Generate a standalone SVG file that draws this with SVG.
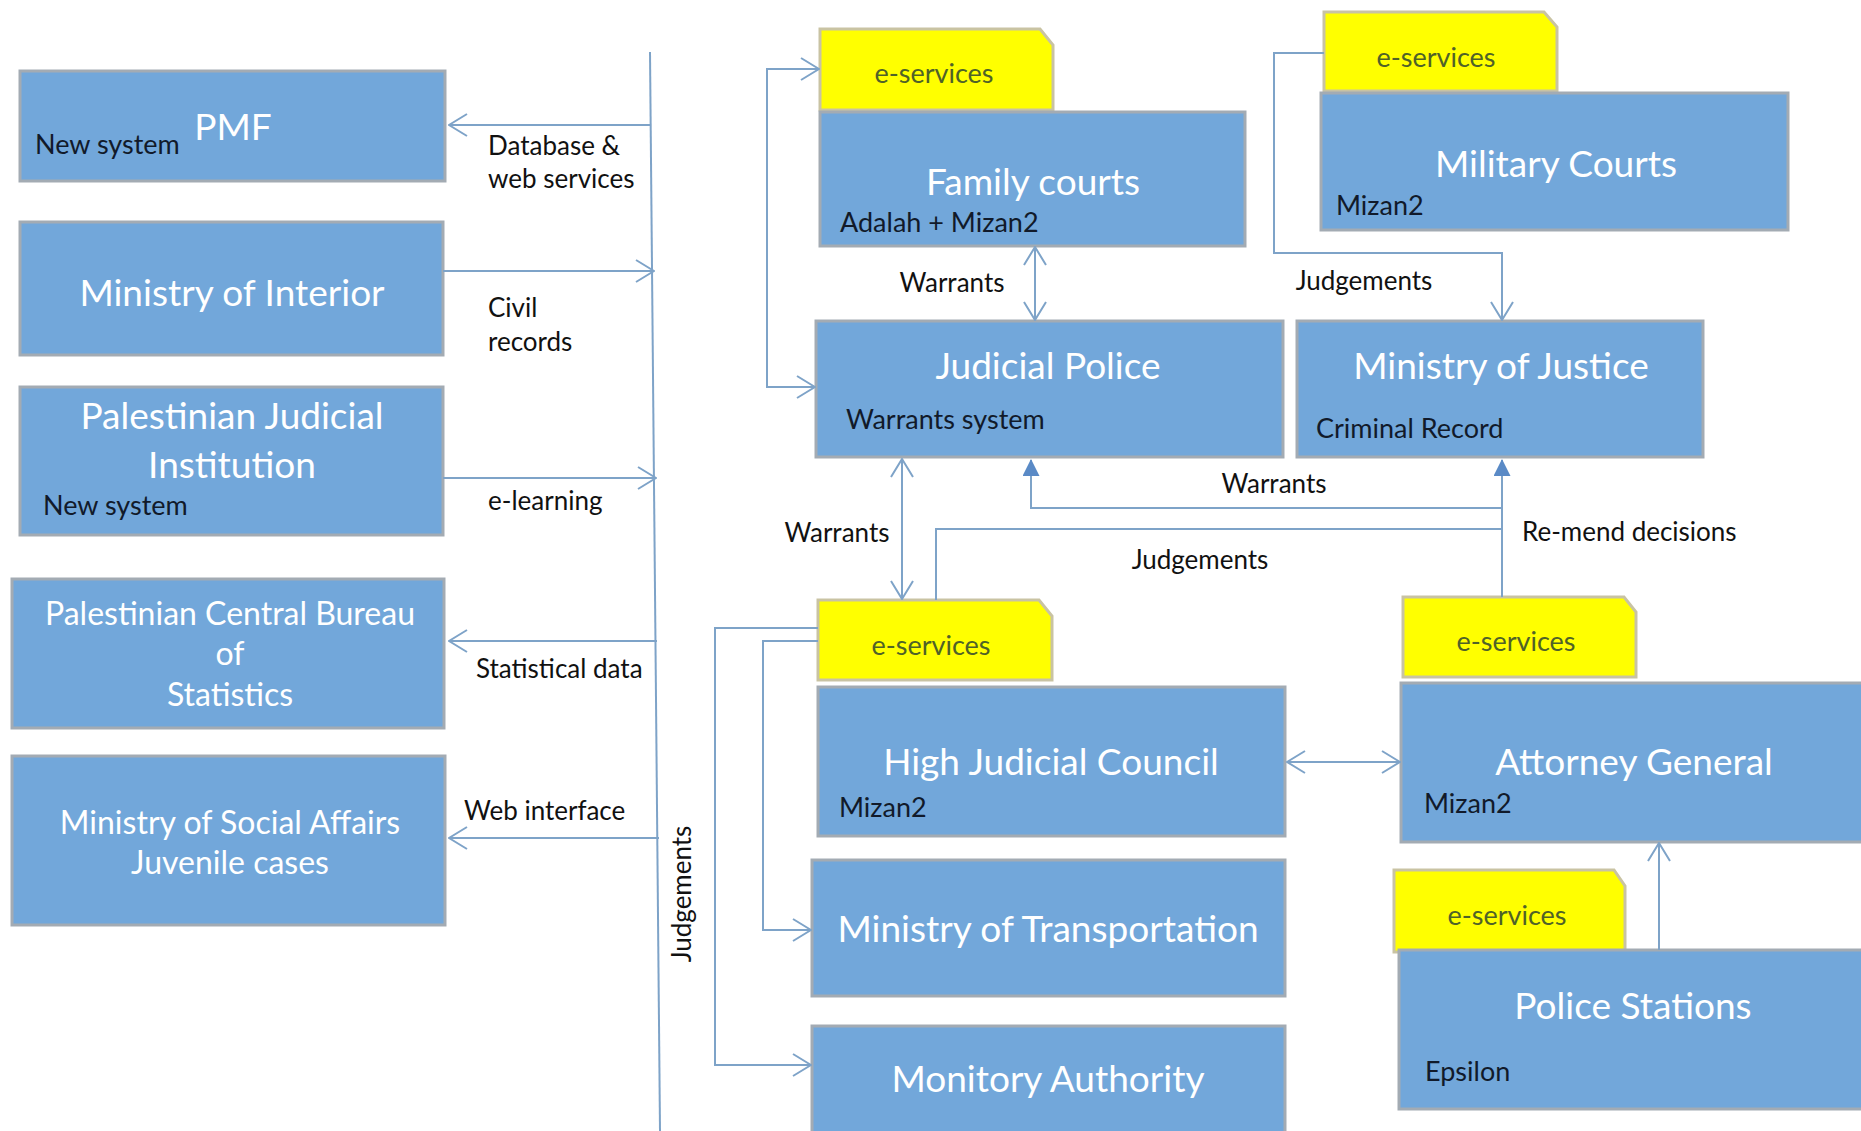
<svg xmlns="http://www.w3.org/2000/svg" width="1861" height="1131" viewBox="0 0 1861 1131">
<style>
.box{fill:#72a7da;stroke:#a3abb3;stroke-width:3}
.tab{fill:#ffff00;stroke:#c9c3a3;stroke-width:3}
text{font-family:Lato,"Liberation Sans",sans-serif}
.t{fill:#ffffff;font-size:37px;text-anchor:middle}
.t2{font-size:32px}
.s{fill:#111a2a;font-size:27px}
.l{fill:#111111;font-size:26px}
.es{fill:#4f6228;font-size:27px;text-anchor:middle}
.c{stroke:#7ea3c8;stroke-width:2;fill:none}
</style>
<defs>
<marker id="op" viewBox="0 0 20 24" refX="19" refY="12" markerWidth="20" markerHeight="24" markerUnits="userSpaceOnUse" orient="auto-start-reverse">
<path d="M1,1 L19,12 L1,23" fill="none" stroke="#7ea3c8" stroke-width="2"/>
</marker>
<marker id="fl" viewBox="0 0 17 17" refX="16" refY="8.5" markerWidth="17" markerHeight="17" markerUnits="userSpaceOnUse" orient="auto">
<path d="M0,0 L17,8.5 L0,17 Z" fill="#5a8ac6"/>
</marker>
</defs>
<rect width="1861" height="1131" fill="#ffffff"/>

<g id="pmf"><rect class="box" x="20" y="71" width="425" height="110"/><text class="t" x="233" y="140">PMF</text><text class="s" x="35" y="154">New system</text></g>
<g id="interior"><rect class="box" x="20" y="222" width="423" height="133"/><text class="t" x="232" y="306">Ministry of Interior</text></g>
<g id="pji"><rect class="box" x="20" y="387" width="423" height="148"/><text class="t" x="232" y="429">Palestinian Judicial</text><text class="t" x="232" y="478">Institution</text><text class="s" x="43" y="515">New system</text></g>
<g id="pcbs"><rect class="box" x="12" y="579" width="432" height="149"/><text class="t t2" x="230" y="625">Palestinian Central Bureau</text><text class="t t2" x="230" y="665">of</text><text class="t t2" x="230" y="706">Statistics</text></g>
<g id="mosa"><rect class="box" x="12" y="756" width="433" height="169"/><text class="t t2" x="230" y="834">Ministry of Social Affairs</text><text class="t t2" x="230" y="874">Juvenile cases</text></g>

<g id="family"><polygon class="tab" points="820,29 1040,29 1053,45 1053,110 820,110"/><text class="es" x="934" y="83">e-services</text><rect class="box" x="820" y="112" width="425" height="134"/><text class="t" x="1033" y="195">Family courts</text><text class="s" x="840" y="232">Adalah + Mizan2</text></g>
<g id="military"><polygon class="tab" points="1324,12 1544,12 1557,27 1557,91 1324,91"/><text class="es" x="1436" y="67">e-services</text><rect class="box" x="1321" y="93" width="467" height="137"/><text class="t" x="1556" y="177">Military Courts</text><text class="s" x="1336" y="215">Mizan2</text></g>
<g id="judicialpolice"><rect class="box" x="816" y="321" width="467" height="136"/><text class="t" x="1048" y="379">Judicial Police</text><text class="s" x="846" y="429">Warrants system</text></g>
<g id="justice"><rect class="box" x="1297" y="321" width="406" height="136"/><text class="t" x="1501" y="379">Ministry of Justice</text><text class="s" x="1316" y="438">Criminal Record</text></g>
<g id="hjc"><polygon class="tab" points="818,600 1039,600 1052,616 1052,680 818,680"/><text class="es" x="931" y="655">e-services</text><rect class="box" x="818" y="687" width="467" height="149"/><text class="t" x="1051" y="775">High Judicial Council</text><text class="s" x="839" y="817">Mizan2</text></g>
<g id="attorney"><polygon class="tab" points="1403,597 1624,597 1636,612 1636,677 1403,677"/><text class="es" x="1516" y="651">e-services</text><rect class="box" x="1401" y="683" width="474" height="159"/><text class="t" x="1634" y="775">Attorney General</text><text class="s" x="1424" y="813">Mizan2</text></g>
<g id="transport"><rect class="box" x="812" y="860" width="473" height="136"/><text class="t" x="1048" y="942">Ministry of Transportation</text></g>
<g id="monitory"><rect class="box" x="812" y="1026" width="473" height="122"/><text class="t" x="1048" y="1092">Monitory Authority</text></g>
<g id="police"><polygon class="tab" points="1394,870 1614,870 1625,886 1625,952 1394,952"/><text class="es" x="1507" y="925">e-services</text><rect class="box" x="1399" y="950" width="476" height="159"/><text class="t" x="1633" y="1019">Police Stations</text><text class="s" x="1425" y="1081">Epsilon</text></g>

<g id="connectors">
<path class="c" d="M650,52 L660,1131"/>
<path class="c" d="M651,125 H449" marker-end="url(#op)"/>
<path class="c" d="M443,271 H654" marker-end="url(#op)"/>
<path class="c" d="M443,478 H656" marker-end="url(#op)"/>
<path class="c" d="M657,641 H449" marker-end="url(#op)"/>
<path class="c" d="M659,838 H449" marker-end="url(#op)"/>
<path class="c" d="M819,69 H767 V387 H815" marker-start="url(#op)" marker-end="url(#op)"/>
<path class="c" d="M1035,247 V320" marker-start="url(#op)" marker-end="url(#op)"/>
<path class="c" d="M1324,53 H1274 V253 H1502 V320" marker-end="url(#op)"/>
<path class="c" d="M902,459 V599" marker-start="url(#op)" marker-end="url(#op)"/>
<path class="c" d="M936,600 V529 H1502"/>
<path class="c" d="M1502,508 H1031 V460" marker-end="url(#fl)"/>
<path class="c" d="M1502,597 V460" marker-end="url(#fl)"/>
<path class="c" d="M1287,762 H1400" marker-start="url(#op)" marker-end="url(#op)"/>
<path class="c" d="M1659,950 V843" marker-end="url(#op)"/>
<path class="c" d="M818,641 H763 V930 H811" marker-end="url(#op)"/>
<path class="c" d="M818,628 H715 V1065 H811" marker-end="url(#op)"/>
</g>

<g id="labels">
<text class="l" x="488" y="155">Database &amp;</text>
<text class="l" x="488" y="188">web services</text>
<text class="l" x="488" y="317">Civil</text>
<text class="l" x="488" y="351">records</text>
<text class="l" x="488" y="510">e-learning</text>
<text class="l" x="476" y="678">Statistical data</text>
<text class="l" x="464" y="820">Web interface</text>
<text class="l" transform="translate(691,894) rotate(-90)" text-anchor="middle">Judgements</text>
<text class="l" x="952" y="292" text-anchor="middle">Warrants</text>
<text class="l" x="1364" y="290" text-anchor="middle">Judgements</text>
<text class="l" x="1274" y="493" text-anchor="middle">Warrants</text>
<text class="l" x="1522" y="541">Re-mend decisions</text>
<text class="l" x="837" y="542" text-anchor="middle">Warrants</text>
<text class="l" x="1200" y="569" text-anchor="middle">Judgements</text>
</g>
</svg>
